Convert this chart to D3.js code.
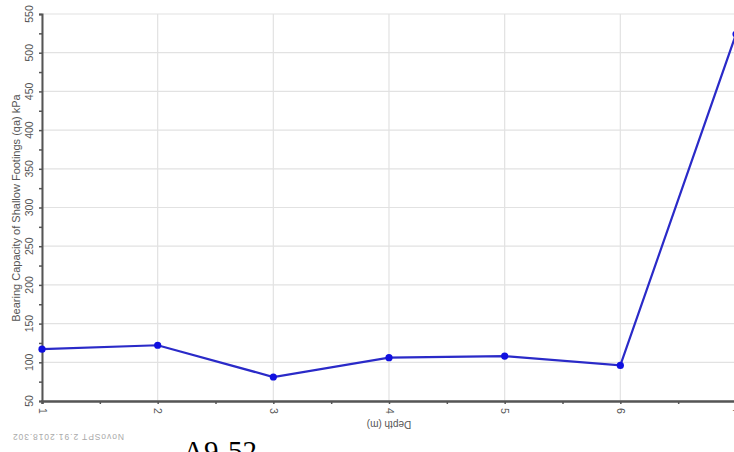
<!DOCTYPE html>
<html><head><meta charset="utf-8">
<script src="https://cdn.jsdelivr.net/npm/d3@7"></script>
<style>body{margin:0;background:#fff;}svg{display:block;}</style>
</head><body>
<svg id="c" width="734" height="452"></svg>
<script>
const depths = [1, 2, 3, 4, 5, 6, 7];
const capacity = [117, 122, 81, 106, 108, 96, 524];
const yTicks = [50, 100, 150, 200, 250, 300, 350, 400, 450, 500, 550];
const xTicks = [1, 2, 3, 4, 5, 6, 7];
const yTitle = "Bearing Capacity of Shallow Footings (qa) kPa";
const xTitle = "Depth (m)";
const stamp = "NovoSPT 2.91.2018.302";
const caption = "A9-52";

const svg = d3.select("#c");
const x = d3.scaleLinear().domain([1, 7]).range([42, 736]);
const y = d3.scaleLinear().domain([50, 550]).range([401, 14]);

// grid
svg.append("g").selectAll("line").data(yTicks).join("line")
  .attr("x1", x(1)).attr("x2", 734).attr("y1", d => y(d)).attr("y2", d => y(d))
  .attr("stroke", "#e2e2e2").attr("stroke-width", 1.2);
svg.append("g").selectAll("line").data(xTicks).join("line")
  .attr("x1", d => x(d)).attr("x2", d => x(d)).attr("y1", y(550)).attr("y2", y(50))
  .attr("stroke", "#e2e2e2").attr("stroke-width", 1.2);

// axes
const yAxis = d3.axisLeft(y).tickValues(d3.range(50, 551, 25)).tickSize(3).tickFormat("");
const gy = svg.append("g").attr("transform", `translate(${x(1)},0)`).call(yAxis);
gy.select(".domain").attr("stroke", "#555").attr("stroke-width", 2);
gy.selectAll(".tick line").attr("stroke", "#555").attr("stroke-width", 1.5);

const xAxis = d3.axisBottom(x).tickValues(d3.range(1, 7.01, 0.5)).tickSize(3).tickFormat("");
const gx = svg.append("g").attr("transform", `translate(0,${y(50)})`).call(xAxis);
gx.select(".domain").attr("stroke", "#555").attr("stroke-width", 2.5);
gx.selectAll(".tick line").attr("stroke", "#555").attr("stroke-width", 1.5);

// y tick labels rotated
svg.append("g").selectAll("text").data(yTicks).join("text")
  .attr("transform", d => `translate(33,${y(d)}) rotate(-90)`)
  .attr("text-anchor", "middle")
  .attr("font-family", "Liberation Sans, Arial, sans-serif")
  .attr("font-size", 10.5).attr("fill", "#555")
  .text(d => d);

// x tick labels rotated 90
svg.append("g").selectAll("text").data(xTicks).join("text")
  .attr("transform", d => `translate(${x(d) - 3.5},${y(50) + 10}) rotate(90)`)
  .attr("text-anchor", "middle")
  .attr("font-family", "Liberation Sans, Arial, sans-serif")
  .attr("font-size", 10.5).attr("fill", "#555")
  .text(d => d);

// y title
svg.append("text")
  .attr("transform", `translate(20,208) rotate(-90)`)
  .attr("text-anchor", "middle")
  .attr("font-family", "Liberation Sans, Arial, sans-serif")
  .attr("font-size", 11).attr("fill", "#555")
  .text(yTitle);

// x title upside down
svg.append("text")
  .attr("transform", `translate(${x(4)},421) rotate(180)`)
  .attr("text-anchor", "middle")
  .attr("font-family", "Liberation Sans, Arial, sans-serif")
  .attr("font-size", 10).attr("fill", "#555")
  .text(xTitle);

// line + markers
const line = d3.line().x((d, i) => x(depths[i])).y(d => y(d));
svg.append("path").datum(capacity)
  .attr("d", line).attr("fill", "none")
  .attr("stroke", "#2a2ac8").attr("stroke-width", 2.2);
svg.append("g").selectAll("circle").data(capacity).join("circle")
  .attr("cx", (d, i) => x(depths[i])).attr("cy", d => y(d)).attr("r", 3.6)
  .attr("fill", "#1010e0");

// stamp upside down
svg.append("text")
  .attr("transform", `translate(68,434) rotate(180)`)
  .attr("text-anchor", "middle")
  .attr("font-family", "Liberation Sans, Arial, sans-serif")
  .attr("font-size", 8.5).attr("fill", "#aaa").attr("letter-spacing", 0.9)
  .text(stamp);

// caption
svg.append("text")
  .attr("x", 183).attr("y", 461)
  .attr("font-family", "Liberation Serif, Times New Roman, serif")
  .attr("font-size", 29).attr("fill", "#000")
  .text(caption);
</script>
</body></html>
